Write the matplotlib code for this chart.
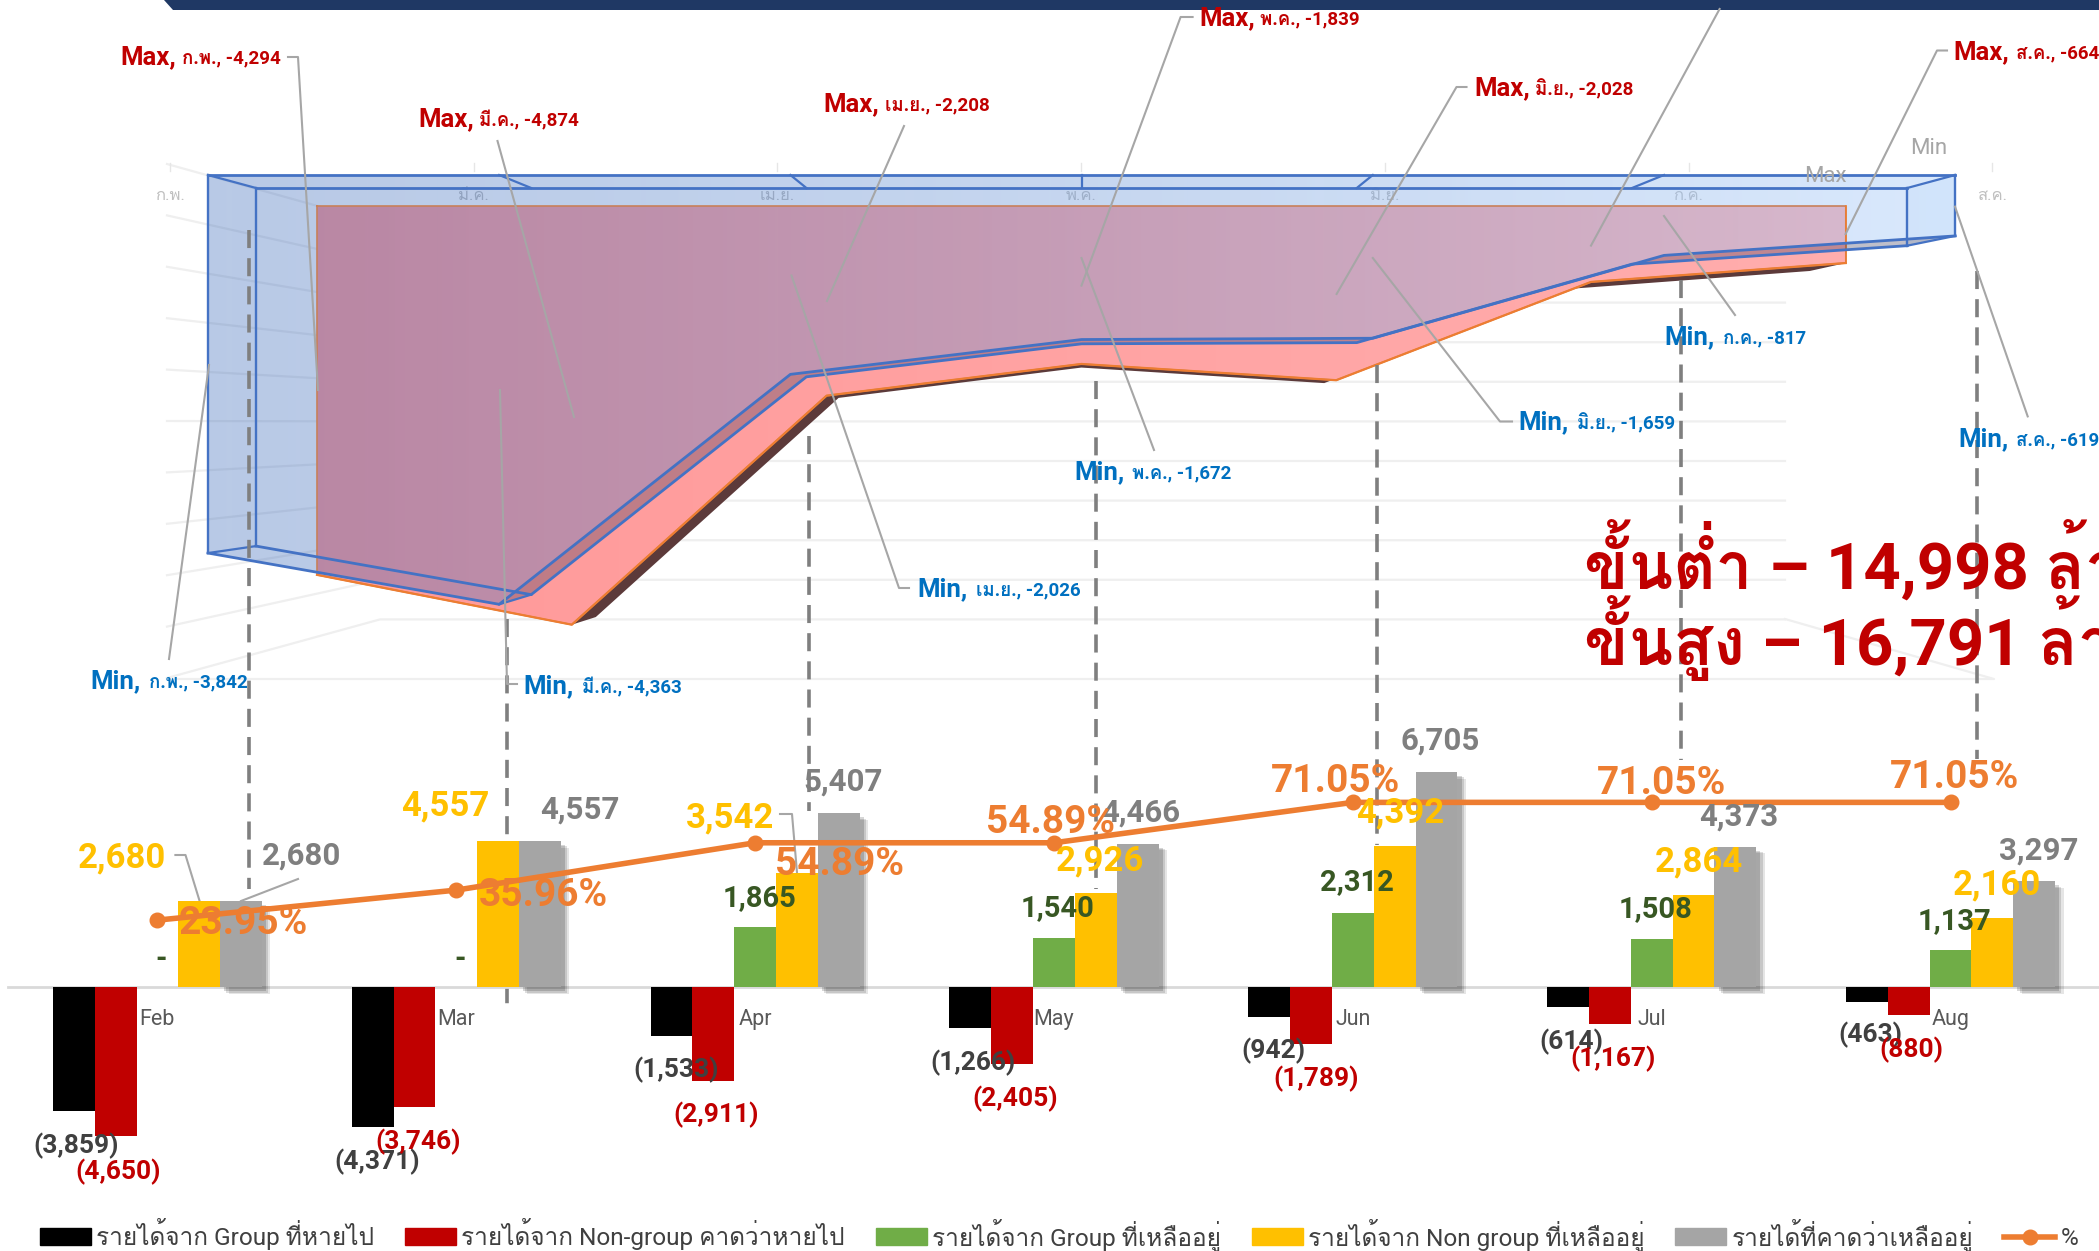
"""Revenue lost / remaining by month, with the min/max 3D area block above."""

import numpy as np
import matplotlib
matplotlib.use("Agg")
import matplotlib.pyplot as plt
from matplotlib import font_manager as fm, patheffects as pe
from matplotlib.ft2font import FT2Font
from matplotlib.lines import Line2D
from matplotlib.patches import Patch, Polygon

W, H = 2099, 1251

MONTHS = ["Feb", "Mar", "Apr", "May", "Jun", "Jul", "Aug"]
MONTHS_TH = ["ก.พ.", "มี.ค.", "เม.ย.", "พ.ค.", "มิ.ย.", "ก.ค.", "ส.ค."]
MIN_VALS = [3842, 4363, 2026, 1672, 1659, 817, 619]
MAX_VALS = [4294, 4874, 2208, 1839, 2028, 884, 664]
LOST_GROUP = [-3859, -4371, -1533, -1266, -942, -614, -463]
LOST_NONGROUP = [-4650, -3746, -2911, -2405, -1789, -1167, -880]
LEFT_GROUP = [0, 0, 1865, 1540, 2312, 1508, 1137]
LEFT_NONGROUP = [2680, 4557, 3542, 2926, 4392, 2864, 2160]
LEFT_TOTAL = [2680, 4557, 5407, 4466, 6705, 4373, 3297]
PCT = [23.95, 35.96, 54.89, 54.89, 71.05, 71.05, 71.05]
LEVELS = [0, 500, 1000, 1500, 2000, 2500, 3000, 3500, 4000, 4500, 5000]
LEGEND = ["รายได้จาก Group ที่หายไป", "รายได้จาก Non-group คาดว่าหายไป",
          "รายได้จาก Group ที่เหลืออยู่", "รายได้จาก Non group ที่เหลืออยู่",
          "รายได้ที่คาดว่าเหลืออยู่", "%"]

BLACK, RED, GREEN, YELLOW, GRAY, ORANGE = ("#000000", "#C00000", "#70AD47",
                                           "#FFC000", "#A5A5A5", "#ED7D31")
BLUE_LINE = "#4472C4"
LEADER = "#A6A6A6"


def thai_fonts():
    names = []
    for f in fm.fontManager.ttflist:
        try:
            if 0x0E01 in FT2Font(f.fname).get_charmap() and f.name not in names:
                names.append(f.name)
        except Exception:
            pass
    return names


THAI = thai_fonts()
plt.rcParams["font.family"] = ["Roboto"] + THAI + ["DejaVu Sans"]


def ftext(x, y, s, **kw):
    kw.setdefault("ha", "center")
    kw.setdefault("va", "center")
    return fig.text(x / W, 1 - y / H, s, **kw)


def plane(vals, x0, dx, top, scale):
    # one depth plane of the 3D area: month index -> x, value -> y
    return [(x0 + i * dx, top + scale * v) for i, v in enumerate(vals)]


def gradient(ax, c0, c1, extent, clip):
    img = np.linspace(c0, c1, 256).reshape(1, 256, 4)
    im = ax.imshow(img, extent=extent, aspect="auto", interpolation="bilinear", zorder=3)
    im.set_clip_path(Polygon(clip, closed=True, transform=ax.transData))


fig = plt.figure(figsize=(W / 100, H / 100), dpi=100, facecolor="white")

# ---- pseudo 3D block, in figure pixels
bg = fig.add_axes([0, 0, 1, 1], zorder=0)
bg.set_xlim(0, W)
bg.set_ylim(H, 0)
bg.axis("off")

bg.fill([164, W, W, 173], [0, 0, 10, 10], color="#1F3864", lw=0)

for k, lev in enumerate(LEVELS):
    y_side = 164 + 0.1028 * lev
    y_back = 223.4 + 0.0792 * lev
    bg.plot([167, 380, 1785], [y_side, y_back, y_back], color="#EFEFEF", lw=1.6, zorder=1)
bg.plot([167, 1994, 1785], [679, 679, 619], color="#EFEFEF", lw=1.6, zorder=1)

for (x, y), m in zip(plane([0] * 7, 170, 303.7, 195, 0), MONTHS_TH):
    bg.text(x, y, m, color="#BFBFBF", fontsize=12, ha="center", va="center", zorder=1)
    bg.plot([x, x], [163, 171], color="#E6E6E6", lw=1, zorder=1)

pink_f = plane(MAX_VALS, 317, 254.8, 206, 0.0859)
pink_b = plane(MAX_VALS, 353, 242.8, 216.4, 0.0822)
blue_o = plane(MIN_VALS, 208, 291.2, 175, 0.0984)
blue_i = plane(MIN_VALS, 256, 275.2, 188, 0.0932)

# underside of the front prism shows as a dark sliver
under = pink_f[1:] + pink_b[1:][::-1]
bg.add_patch(Polygon(under, closed=True, fc="#5C3A3A", ec="none", zorder=2))

pink_poly = [(317, 206), (pink_f[-1][0], 206)] + pink_f[::-1]
gradient(bg, (1, .60, .60, 1), (1, .68, .68, 1), (317, 1846, 640, 200), pink_poly)
xs, ys = zip(*pink_poly, pink_poly[0])
bg.plot(xs, ys, color="#C8805A", lw=1.2, zorder=4)
xs, ys = zip(*pink_f)
bg.plot(xs, ys, color=ORANGE, lw=1.6, zorder=4)
bg.plot([pink_f[-1][0]] * 2, [206, pink_f[-1][1]], color=ORANGE, lw=1.2, zorder=4)

blue_poly = [(208, 175), (blue_o[-1][0], 175)] + blue_o[::-1]
gradient(bg, (47 / 255, 97 / 255, 182 / 255, .34), (170 / 255, 205 / 255, 250 / 255, .44),
         (208, 1955, 640, 170), blue_poly)
for i in range(1, 6):
    quad = [blue_o[i], blue_o[i + 1], blue_i[i + 1], blue_i[i]]
    bg.add_patch(Polygon(quad, closed=True, fc="#3A3A5A", ec="none", alpha=.32, zorder=5))
aug_side = [(blue_o[-1][0], 175), blue_o[-1], blue_i[-1], (blue_i[-1][0], 188)]
bg.add_patch(Polygon(aug_side, closed=True, fc="#C4DEFA", ec="none", alpha=.35, zorder=3))

for pts, top in ((blue_o, 175), (blue_i, 188)):
    xs, ys = zip(*pts)
    bg.plot([xs[0], xs[0]], [top, ys[0]], color=BLUE_LINE, lw=1.7, zorder=6)
    bg.plot([xs[-1], xs[-1]], [top, ys[-1]], color=BLUE_LINE, lw=1.7, zorder=6)
    bg.plot([xs[0], xs[-1]], [top, top], color=BLUE_LINE, lw=2, zorder=6)
    bg.plot(xs, ys, color=BLUE_LINE, lw=2, zorder=6)
for (xo, yo), (xi, yi) in zip(blue_o, blue_i):
    bg.plot([xo, xi], [175, 188], color=BLUE_LINE, lw=1.6, zorder=6)
bg.plot([blue_o[0][0], blue_i[0][0]], [blue_o[0][1], blue_i[0][1]], color=BLUE_LINE, lw=1.6, zorder=6)
bg.plot([blue_o[1][0], blue_i[1][0]], [blue_o[1][1], blue_i[1][1]], color=BLUE_LINE, lw=1.6, zorder=6)
bg.plot([blue_o[-1][0], blue_i[-1][0]], [blue_o[-1][1], blue_i[-1][1]], color=BLUE_LINE, lw=1.6, zorder=6)

# dashed drop lines and callout leaders
drops = [(249, 230, 889), (507, 619, 1005), (809, 436, 811), (1096, 381, 889),
         (1377, 365, 845), (1681, 280, 760), (1977, 271, 759)]
for x, y0, y1 in drops:
    bg.plot([x, x], [y0, y1], color="#7F7F7F", lw=2.6, dashes=(5, 2.8), zorder=7)

leaders = [[(288, 57), (298, 57), (318, 390)], [(497.5, 141), (574, 417)],
           [(904, 126), (827, 301)], [(209, 365), (169, 659)],
           [(500, 390), (507, 684), (517, 684)], [(791.5, 275.5), (899, 588), (909, 588)],
           [(1192.6, 17), (1180.6, 17), (1081.5, 285.6)], [(1081.5, 258), (1154, 450)],
           [(1466.5, 87), (1456.5, 87), (1336.6, 294)], [(1372.8, 258), (1500, 421.5), (1512, 421.5)],
           [(1719.6, 9), (1591, 245.6)], [(1664, 216), (1735, 315)],
           [(1947, 50.5), (1937, 50.5), (1845.6, 234)], [(1955, 206.6), (2027.7, 416.4)],
           [(175.4, 855), (185.5, 855), (199.6, 901)], [(298, 879), (241, 901)],
           [(780, 814), (792, 814), (797, 872.5)]]
for pts in leaders:
    xs, ys = zip(*pts)
    bg.plot(xs, ys, color=LEADER, lw=1.5, zorder=8)

# ---- the bar + line chart, on real value scales
ax = fig.add_axes([8 / W, 1 - 1204 / H, 2092 / W, (1204 - 722) / H], zorder=1)
ax.patch.set_alpha(0)
ax.set_xlim(-0.5, 6.5)
ax.set_ylim(-6754, 8248)
x = np.arange(len(MONTHS))
bw = 0.14
series = [(LOST_GROUP, BLACK), (LOST_NONGROUP, RED), (LEFT_GROUP, GREEN),
          (LEFT_NONGROUP, YELLOW), (LEFT_TOTAL, GRAY)]
for j, (vals, col) in enumerate(series):
    bars = ax.bar(x + (j - 2) * bw, vals, bw, color=col, zorder=3)
    if col == GRAY:
        for b in bars:
            b.set_path_effects([pe.SimplePatchShadow(offset=(6, -5), shadow_rgbFace="k", alpha=.10),
                                pe.SimplePatchShadow(offset=(4.5, -4), shadow_rgbFace="k", alpha=.13),
                                pe.SimplePatchShadow(offset=(3, -3), shadow_rgbFace="k", alpha=.16),
                                pe.Normal()])
for s in ("top", "left", "right"):
    ax.spines[s].set_visible(False)
ax.spines["bottom"].set_position(("data", 0))
ax.spines["bottom"].set_color("#D9D9D9")
ax.spines["bottom"].set_linewidth(2)
ax.spines["bottom"].set_zorder(2)
ax.set_yticks([])
ax.set_xticks(x, MONTHS)
ax.tick_params(axis="x", length=0, pad=16, labelsize=15.5, labelcolor="#595959")

ax2 = ax.twinx()
ax2.set_zorder(2)
ax2.patch.set_alpha(0)
ax2.set_ylim(-89.6, 103.2)
ax2.axis("off")
line, = ax2.plot(x, PCT, color=ORANGE, lw=4, marker="o", ms=10.5, zorder=4)

handles = [Patch(color=c) for _, c in series] + [Line2D([], [], color=ORANGE, lw=4, marker="o", ms=10.5)]
fig.legend(handles, LEGEND, loc="center left", bbox_to_anchor=(40 / W, 1 - 1235 / H), ncol=6,
           frameon=False, fontsize=17.6, labelcolor="#404040", handlelength=2.08, handleheight=0.7,
           handletextpad=0.22, columnspacing=1.26, borderpad=0, borderaxespad=0)

# ---- labels, positions in figure pixels
S = 2099 / 1568
YELLOW_XY = [(91, 640), (333, 601), (545, 610), (822, 642), (1046, 606), (1269, 643), (1492, 660)]
GRAY_XY = [(225, 638), (433, 604), (630, 583), (852, 606), (1076, 552), (1299, 609), (1523, 634)]
GREEN_XY = [(120, 715), (344, 715), (567, 670), (790, 677), (1014, 658), (1237, 678), (1460, 687)]
BLACK_XY = [(57, 855), (282, 867), (505, 798), (727, 793), (951, 784), (1174, 777), (1397, 772)]
RED_XY = [(88, 874), (312, 852), (535, 832), (758, 820), (983, 805), (1205, 790), (1428, 783)]
PCT_XY = [(182, 689), (406, 668), (627, 645), (785, 613), (998, 583), (1241, 584), (1460, 580)]


def neg(v):
    return f"({abs(v):,})"


for vals, xy, col, size, fmt in [
    (LEFT_NONGROUP, YELLOW_XY, "#FFC000", 25, lambda v: f"{v:,}"),
    (LEFT_TOTAL, GRAY_XY, "#7F7F7F", 22.5, lambda v: f"{v:,}"),
    (LEFT_GROUP, GREEN_XY, "#385723", 21, lambda v: f"{v:,}" if v else "-"),
    (LOST_GROUP, BLACK_XY, "#404040", 19, neg),
    (LOST_NONGROUP, RED_XY, "#C00000", 19, neg),
    (PCT, PCT_XY, ORANGE, 28, lambda v: f"{v:.2f}%"),
]:
    for v, (lx, ly) in zip(vals, xy):
        ftext(lx * S, ly * S + 1.5, fmt(v), color=col, fontsize=size, fontweight="bold")

MAX_XY = [(120.5, 182, 57), (418, 479, 119), (823, 885, 104), (1199.5, 1260, 18),
          (1474, 1535, 88), None, (1953, 2016, 52)]
MIN_XY = [(90, 149, 681), (523, 582, 686), (917, 976, 589), (1074, 1132.5, 472),
          (1518, 1577, 422.5), (1664, 1723, 337), (1958.5, 2016, 439)]
for tag, vals, xys, col in (("Max,", MAX_VALS, MAX_XY, "#C00000"), ("Min,", MIN_VALS, MIN_XY, "#0070C0")):
    for m, v, xy in zip(MONTHS_TH, vals, xys):
        if xy is None:
            continue  # label runs off the top of the slide
        ftext(xy[0], xy[2], tag, color=col, fontsize=18.5, fontweight="bold", ha="left")
        ftext(xy[1], xy[2] + 1, f"{m}, -{v:,}", color=col, fontsize=13.5, fontweight="bold", ha="left")

ftext(1929, 149, "Min", color=LEADER, fontsize=16)
ftext(1825, 177, "Max", color=LEADER, fontsize=16)
ftext(1584, 561, f"ขั้นต่ำ – {sum(MIN_VALS):,} ล้าน", color="#C00000", fontsize=47,
      fontweight="bold", ha="left")
ftext(1584, 638, f"ขั้นสูง – {sum(MAX_VALS):,} ล้าน", color="#C00000", fontsize=47,
      fontweight="bold", ha="left")

fig.savefig("out.png", dpi=100)
